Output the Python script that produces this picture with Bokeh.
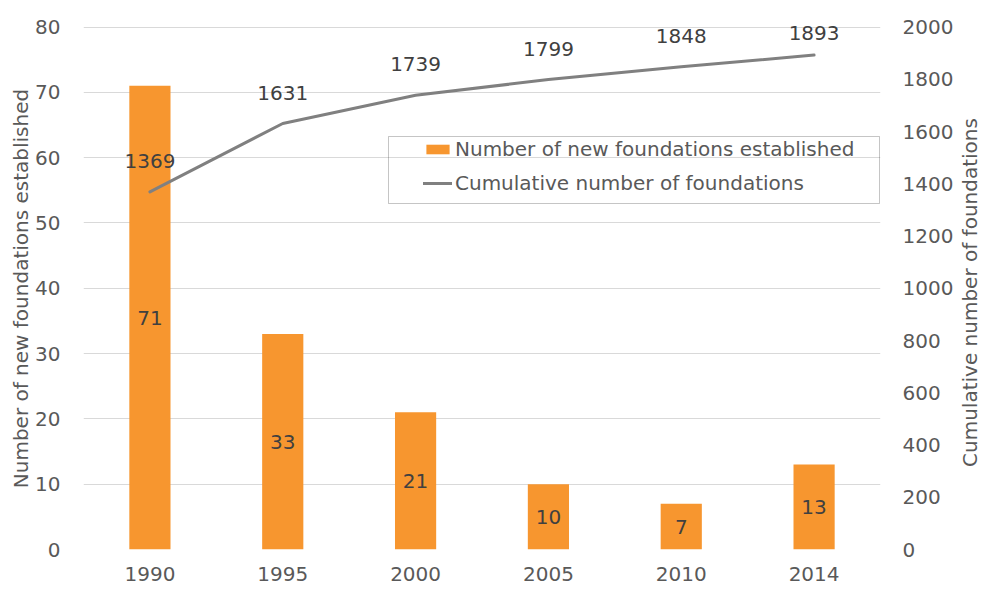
import math
from bokeh.plotting import figure
from bokeh.core.properties import value
from bokeh.models import (Range1d, LinearAxis, FactorRange, ColumnDataSource, LabelSet, Label,
                          Legend, LegendItem, BoxAnnotation, FixedTicker)
from bokeh.embed import file_html
from bokeh.resources import INLINE

years = ["1990", "1995", "2000", "2005", "2010", "2014"]
new_foundations = [71, 33, 21, 10, 7, 13]
cumulative = [1369, 1631, 1739, 1799, 1848, 1893]
left_ticks = [0, 10, 20, 30, 40, 50, 60, 70, 80]
right_ticks = [0, 200, 400, 600, 800, 1000, 1200, 1400, 1600, 1800, 2000]

FONT = "DejaVu Sans"
FS = "20px"
TICK_COL = "#595959"
LABEL_COL = "#404040"
ORANGE = "#F7962F"
GRAY = "#808080"
# style: how far (px) each cumulative label floats above its point (last one kept inside the plot area)
LINE_LABEL_RAISE = [31, 30, 31, 31, 31, 22]

src = ColumnDataSource(dict(
    year=years,
    new=new_foundations,
    mid=[v / 2 for v in new_foundations],
    new_txt=[str(v) for v in new_foundations],
    cum=cumulative,
    cum_txt=[str(v) for v in cumulative],
    raise_px=LINE_LABEL_RAISE,
))

# ranges extend a little above the top gridline (80 / 2000) to leave room for labels
p = figure(width=981, height=589, x_range=FactorRange(*years), y_range=Range1d(0, 83),
           output_backend="svg", toolbar_location=None, title=None,
           min_border_left=83, min_border_right=101, min_border_top=7, min_border_bottom=40)
p.extra_y_ranges = {"cum": Range1d(0, 2075)}
p.outline_line_color = None
p.background_fill_color = "white"
p.border_fill_color = "white"

bars = p.vbar(x="year", top="new", width=0.31, fill_color=ORANGE, line_color=None, source=src)
line = p.line(x="year", y="cum", y_range_name="cum", line_width=3, line_color=GRAY,
              line_cap="round", line_join="round", source=src)

p.xgrid.visible = False
p.ygrid.ticker = FixedTicker(ticks=left_ticks)
p.ygrid.grid_line_color = "#D9D9D9"
p.ygrid.grid_line_width = 1


def style_axis(ax, standoff):
    ax.major_tick_line_color = None
    ax.minor_tick_line_color = None
    ax.axis_line_color = None
    ax.major_tick_in = 0
    ax.major_tick_out = 0
    ax.minor_tick_in = 0
    ax.minor_tick_out = 0
    ax.major_label_standoff = standoff
    ax.major_label_text_font = FONT
    ax.major_label_text_font_size = FS
    ax.major_label_text_color = TICK_COL


ya = p.yaxis[0]
ya.ticker = FixedTicker(ticks=left_ticks)
style_axis(ya, 23)

ra = LinearAxis(y_range_name="cum", ticker=FixedTicker(ticks=right_ticks))
style_axis(ra, 22)
p.add_layout(ra, "right")

xa = p.xaxis[0]
style_axis(xa, 17)

# axis titles (both read bottom-to-top)
left_title = Label(x=20, y=288, x_units="canvas", y_units="canvas", angle=math.pi / 2,
                   text="Number of new foundations established",
                   text_align="center", text_baseline="middle",
                   text_font=FONT, text_font_size=FS, text_color=TICK_COL)
right_title = Label(x=969, y=292, x_units="canvas", y_units="canvas", angle=math.pi / 2,
                    text="Cumulative number of foundations",
                    text_align="center", text_baseline="middle",
                    text_font=FONT, text_font_size=FS, text_color=TICK_COL)
p.add_layout(left_title, "left")
p.add_layout(right_title, "right")

bar_labels = LabelSet(x="year", y="mid", text="new_txt", source=src,
                      text_align="center", text_baseline="middle",
                      text_font=value(FONT), text_font_size=FS, text_color=LABEL_COL)
line_labels = LabelSet(x="year", y="cum", y_range_name="cum", text="cum_txt", source=src,
                       y_offset="raise_px", text_align="center", text_baseline="middle",
                       text_font=value(FONT), text_font_size=FS, text_color=LABEL_COL)
p.add_layout(bar_labels)
p.add_layout(line_labels)

legend = Legend(items=[
    LegendItem(label="Number of new foundations established", renderers=[bars]),
    LegendItem(label="Cumulative number of foundations", renderers=[line]),
], location=(340, 354), padding=0, spacing=10, glyph_width=29, glyph_height=12,
    label_height=20, label_standoff=3, border_line_alpha=0, background_fill_alpha=0,
    label_text_font=FONT, label_text_font_size=FS, label_text_color=TICK_COL, margin=0)
p.add_layout(legend)

frame_box = BoxAnnotation(left=388, right=879, top=136, bottom=203,
                          left_units="canvas", right_units="canvas",
                          top_units="canvas", bottom_units="canvas",
                          fill_alpha=0, line_color="#404040", line_width=1)
p.add_layout(frame_box)

open("out.html", "w").write(file_html(p, INLINE))
